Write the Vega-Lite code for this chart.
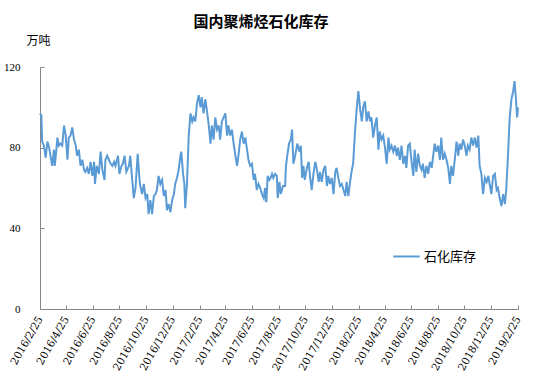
{
  "$schema": "https://vega.github.io/schema/vega-lite/v6.json",
  "width": 478,
  "height": 242,
  "autosize": {"type": "none"},
  "padding": {"left": 40, "top": 67, "right": 23, "bottom": 75},
  "background": "white",
  "title": {"text": "国内聚烯烃石化库存", "font": "Noto Sans CJK SC", "fontSize": 15, "fontWeight": "bold", "color": "#000000", "anchor": "middle", "dx": -18, "offset": 4},
  "data": {"values": [
    {"date": "2016/02/25", "v": 97}, {"date": "2016/02/28", "v": 96}, {"date": "2016/03/01", "v": 83}, {"date": "2016/03/05", "v": 81},
    {"date": "2016/03/09", "v": 75}, {"date": "2016/03/13", "v": 83}, {"date": "2016/03/17", "v": 80}, {"date": "2016/03/20", "v": 76},
    {"date": "2016/03/24", "v": 71}, {"date": "2016/03/28", "v": 79}, {"date": "2016/03/30", "v": 71}, {"date": "2016/04/05", "v": 85},
    {"date": "2016/04/08", "v": 81}, {"date": "2016/04/12", "v": 82}, {"date": "2016/04/16", "v": 81}, {"date": "2016/04/20", "v": 91},
    {"date": "2016/04/24", "v": 86}, {"date": "2016/04/28", "v": 74}, {"date": "2016/05/01", "v": 85}, {"date": "2016/05/05", "v": 86},
    {"date": "2016/05/09", "v": 90}, {"date": "2016/05/13", "v": 84}, {"date": "2016/05/17", "v": 81}, {"date": "2016/05/20", "v": 76},
    {"date": "2016/05/24", "v": 79}, {"date": "2016/05/28", "v": 71}, {"date": "2016/06/01", "v": 74}, {"date": "2016/06/05", "v": 69},
    {"date": "2016/06/08", "v": 68}, {"date": "2016/06/12", "v": 70}, {"date": "2016/06/16", "v": 67}, {"date": "2016/06/20", "v": 73},
    {"date": "2016/06/24", "v": 66}, {"date": "2016/06/28", "v": 73}, {"date": "2016/06/30", "v": 62}, {"date": "2016/07/04", "v": 71},
    {"date": "2016/07/09", "v": 67}, {"date": "2016/07/13", "v": 78}, {"date": "2016/07/17", "v": 69}, {"date": "2016/07/22", "v": 64},
    {"date": "2016/07/24", "v": 74}, {"date": "2016/07/28", "v": 76}, {"date": "2016/08/01", "v": 74}, {"date": "2016/08/05", "v": 72},
    {"date": "2016/08/09", "v": 71}, {"date": "2016/08/13", "v": 73}, {"date": "2016/08/16", "v": 71}, {"date": "2016/08/22", "v": 76},
    {"date": "2016/08/25", "v": 67}, {"date": "2016/08/30", "v": 71}, {"date": "2016/09/02", "v": 72}, {"date": "2016/09/06", "v": 76},
    {"date": "2016/09/10", "v": 68}, {"date": "2016/09/16", "v": 71}, {"date": "2016/09/19", "v": 76}, {"date": "2016/09/23", "v": 65},
    {"date": "2016/09/27", "v": 55}, {"date": "2016/10/01", "v": 60}, {"date": "2016/10/06", "v": 77}, {"date": "2016/10/11", "v": 62},
    {"date": "2016/10/16", "v": 57}, {"date": "2016/10/20", "v": 62}, {"date": "2016/10/24", "v": 55}, {"date": "2016/10/28", "v": 57},
    {"date": "2016/10/31", "v": 47}, {"date": "2016/11/04", "v": 54}, {"date": "2016/11/08", "v": 47}, {"date": "2016/11/12", "v": 56},
    {"date": "2016/11/16", "v": 57}, {"date": "2016/11/19", "v": 59}, {"date": "2016/11/23", "v": 66}, {"date": "2016/11/27", "v": 62},
    {"date": "2016/12/01", "v": 64}, {"date": "2016/12/05", "v": 56}, {"date": "2016/12/09", "v": 59}, {"date": "2016/12/12", "v": 49},
    {"date": "2016/12/16", "v": 52}, {"date": "2016/12/20", "v": 48}, {"date": "2016/12/24", "v": 54}, {"date": "2016/12/28", "v": 57},
    {"date": "2016/12/31", "v": 62}, {"date": "2017/01/04", "v": 65}, {"date": "2017/01/08", "v": 69}, {"date": "2017/01/12", "v": 76},
    {"date": "2017/01/14", "v": 78}, {"date": "2017/01/18", "v": 67}, {"date": "2017/01/21", "v": 62}, {"date": "2017/01/23", "v": 50},
    {"date": "2017/01/27", "v": 62}, {"date": "2017/01/31", "v": 86}, {"date": "2017/02/04", "v": 97}, {"date": "2017/02/08", "v": 93},
    {"date": "2017/02/11", "v": 95}, {"date": "2017/02/15", "v": 93}, {"date": "2017/02/19", "v": 102}, {"date": "2017/02/23", "v": 106},
    {"date": "2017/02/27", "v": 100}, {"date": "2017/03/02", "v": 105}, {"date": "2017/03/06", "v": 97}, {"date": "2017/03/10", "v": 104},
    {"date": "2017/03/14", "v": 98}, {"date": "2017/03/18", "v": 91}, {"date": "2017/03/22", "v": 82}, {"date": "2017/03/25", "v": 91},
    {"date": "2017/03/29", "v": 84}, {"date": "2017/04/02", "v": 95}, {"date": "2017/04/06", "v": 89}, {"date": "2017/04/10", "v": 91},
    {"date": "2017/04/13", "v": 84}, {"date": "2017/04/17", "v": 93}, {"date": "2017/04/21", "v": 95}, {"date": "2017/04/25", "v": 97},
    {"date": "2017/04/29", "v": 86}, {"date": "2017/05/02", "v": 91}, {"date": "2017/05/06", "v": 86}, {"date": "2017/05/10", "v": 89},
    {"date": "2017/05/14", "v": 82}, {"date": "2017/05/18", "v": 76}, {"date": "2017/05/22", "v": 71}, {"date": "2017/05/25", "v": 76},
    {"date": "2017/05/29", "v": 84}, {"date": "2017/06/02", "v": 88}, {"date": "2017/06/06", "v": 82}, {"date": "2017/06/10", "v": 85},
    {"date": "2017/06/13", "v": 80}, {"date": "2017/06/17", "v": 74}, {"date": "2017/06/21", "v": 71}, {"date": "2017/06/25", "v": 72},
    {"date": "2017/06/29", "v": 64}, {"date": "2017/07/02", "v": 67}, {"date": "2017/07/06", "v": 59}, {"date": "2017/07/10", "v": 62},
    {"date": "2017/07/14", "v": 60}, {"date": "2017/07/18", "v": 57}, {"date": "2017/07/22", "v": 55}, {"date": "2017/07/25", "v": 60},
    {"date": "2017/07/28", "v": 53}, {"date": "2017/07/31", "v": 66}, {"date": "2017/08/04", "v": 64}, {"date": "2017/08/07", "v": 65},
    {"date": "2017/08/10", "v": 67}, {"date": "2017/08/13", "v": 65}, {"date": "2017/08/17", "v": 67}, {"date": "2017/08/21", "v": 66},
    {"date": "2017/08/23", "v": 55}, {"date": "2017/08/27", "v": 63}, {"date": "2017/08/30", "v": 57}, {"date": "2017/09/04", "v": 61},
    {"date": "2017/09/09", "v": 61}, {"date": "2017/09/11", "v": 71}, {"date": "2017/09/14", "v": 76}, {"date": "2017/09/18", "v": 82},
    {"date": "2017/09/22", "v": 84}, {"date": "2017/09/25", "v": 89}, {"date": "2017/09/28", "v": 72}, {"date": "2017/10/02", "v": 76},
    {"date": "2017/10/07", "v": 82}, {"date": "2017/10/12", "v": 78}, {"date": "2017/10/15", "v": 81}, {"date": "2017/10/18", "v": 65},
    {"date": "2017/10/21", "v": 71}, {"date": "2017/10/24", "v": 64}, {"date": "2017/10/29", "v": 70}, {"date": "2017/11/02", "v": 73},
    {"date": "2017/11/05", "v": 66}, {"date": "2017/11/09", "v": 59}, {"date": "2017/11/13", "v": 67}, {"date": "2017/11/17", "v": 73},
    {"date": "2017/11/21", "v": 69}, {"date": "2017/11/25", "v": 63}, {"date": "2017/11/28", "v": 68}, {"date": "2017/12/02", "v": 63},
    {"date": "2017/12/06", "v": 69}, {"date": "2017/12/10", "v": 71}, {"date": "2017/12/14", "v": 61}, {"date": "2017/12/17", "v": 66},
    {"date": "2017/12/21", "v": 62}, {"date": "2017/12/25", "v": 65}, {"date": "2017/12/29", "v": 57}, {"date": "2018/01/02", "v": 68},
    {"date": "2018/01/05", "v": 70}, {"date": "2018/01/09", "v": 65}, {"date": "2018/01/13", "v": 61}, {"date": "2018/01/17", "v": 62},
    {"date": "2018/01/21", "v": 59}, {"date": "2018/01/25", "v": 56}, {"date": "2018/01/28", "v": 63}, {"date": "2018/02/01", "v": 56},
    {"date": "2018/02/05", "v": 63}, {"date": "2018/02/09", "v": 69}, {"date": "2018/02/12", "v": 72}, {"date": "2018/02/16", "v": 87},
    {"date": "2018/02/20", "v": 99}, {"date": "2018/02/24", "v": 108}, {"date": "2018/02/28", "v": 99}, {"date": "2018/03/04", "v": 93},
    {"date": "2018/03/07", "v": 100}, {"date": "2018/03/11", "v": 103}, {"date": "2018/03/15", "v": 93}, {"date": "2018/03/19", "v": 98},
    {"date": "2018/03/23", "v": 93}, {"date": "2018/03/26", "v": 95}, {"date": "2018/03/30", "v": 85}, {"date": "2018/04/03", "v": 91},
    {"date": "2018/04/07", "v": 95}, {"date": "2018/04/11", "v": 79}, {"date": "2018/04/14", "v": 88}, {"date": "2018/04/18", "v": 84},
    {"date": "2018/04/22", "v": 86}, {"date": "2018/04/26", "v": 80}, {"date": "2018/04/30", "v": 72}, {"date": "2018/05/04", "v": 85},
    {"date": "2018/05/07", "v": 79}, {"date": "2018/05/11", "v": 81}, {"date": "2018/05/15", "v": 78}, {"date": "2018/05/19", "v": 81},
    {"date": "2018/05/23", "v": 76}, {"date": "2018/05/26", "v": 80}, {"date": "2018/05/30", "v": 74}, {"date": "2018/06/03", "v": 81},
    {"date": "2018/06/07", "v": 72}, {"date": "2018/06/11", "v": 76}, {"date": "2018/06/14", "v": 70}, {"date": "2018/06/18", "v": 81},
    {"date": "2018/06/22", "v": 82}, {"date": "2018/06/26", "v": 73}, {"date": "2018/06/30", "v": 66}, {"date": "2018/07/03", "v": 79},
    {"date": "2018/07/07", "v": 68}, {"date": "2018/07/11", "v": 77}, {"date": "2018/07/15", "v": 71}, {"date": "2018/07/19", "v": 69},
    {"date": "2018/07/22", "v": 72}, {"date": "2018/07/26", "v": 65}, {"date": "2018/07/30", "v": 71}, {"date": "2018/08/03", "v": 67},
    {"date": "2018/08/07", "v": 73}, {"date": "2018/08/11", "v": 70}, {"date": "2018/08/14", "v": 75}, {"date": "2018/08/18", "v": 82},
    {"date": "2018/08/22", "v": 78}, {"date": "2018/08/26", "v": 81}, {"date": "2018/08/30", "v": 74}, {"date": "2018/09/02", "v": 85},
    {"date": "2018/09/06", "v": 74}, {"date": "2018/09/10", "v": 77}, {"date": "2018/09/14", "v": 74}, {"date": "2018/09/18", "v": 70},
    {"date": "2018/09/22", "v": 62}, {"date": "2018/09/25", "v": 71}, {"date": "2018/09/29", "v": 66}, {"date": "2018/10/03", "v": 74},
    {"date": "2018/10/07", "v": 83}, {"date": "2018/10/11", "v": 76}, {"date": "2018/10/14", "v": 82}, {"date": "2018/10/18", "v": 79},
    {"date": "2018/10/22", "v": 84}, {"date": "2018/10/26", "v": 81}, {"date": "2018/10/30", "v": 76}, {"date": "2018/11/02", "v": 81},
    {"date": "2018/11/06", "v": 79}, {"date": "2018/11/10", "v": 85}, {"date": "2018/11/14", "v": 81}, {"date": "2018/11/18", "v": 85},
    {"date": "2018/11/22", "v": 80}, {"date": "2018/11/26", "v": 86}, {"date": "2018/11/29", "v": 71}, {"date": "2018/12/03", "v": 67},
    {"date": "2018/12/07", "v": 57}, {"date": "2018/12/11", "v": 65}, {"date": "2018/12/15", "v": 63}, {"date": "2018/12/19", "v": 66},
    {"date": "2018/12/22", "v": 62}, {"date": "2018/12/26", "v": 57}, {"date": "2018/12/30", "v": 66}, {"date": "2019/01/03", "v": 67},
    {"date": "2019/01/07", "v": 59}, {"date": "2019/01/10", "v": 60}, {"date": "2019/01/14", "v": 55}, {"date": "2019/01/18", "v": 51},
    {"date": "2019/01/22", "v": 57}, {"date": "2019/01/26", "v": 52}, {"date": "2019/01/29", "v": 59}, {"date": "2019/02/02", "v": 76},
    {"date": "2019/02/06", "v": 95}, {"date": "2019/02/10", "v": 104}, {"date": "2019/02/14", "v": 108}, {"date": "2019/02/17", "v": 113},
    {"date": "2019/02/20", "v": 105}, {"date": "2019/02/23", "v": 95}, {"date": "2019/02/25", "v": 100}
  ]},
  "mark": {"type": "line", "strokeWidth": 2, "interpolate": "linear"},
  "encoding": {
    "x": {
      "field": "date", "type": "temporal",
      "scale": {"domain": [{"year": 2016, "month": 2, "date": 25}, {"year": 2019, "month": 2, "date": 25}], "nice": false},
      "axis": {
        "title": null,
        "values": [
          {"year": 2016, "month": 2, "date": 25}, {"year": 2016, "month": 4, "date": 25}, {"year": 2016, "month": 6, "date": 25},
          {"year": 2016, "month": 8, "date": 25}, {"year": 2016, "month": 10, "date": 25}, {"year": 2016, "month": 12, "date": 25},
          {"year": 2017, "month": 2, "date": 25}, {"year": 2017, "month": 4, "date": 25}, {"year": 2017, "month": 6, "date": 25},
          {"year": 2017, "month": 8, "date": 25}, {"year": 2017, "month": 10, "date": 25}, {"year": 2017, "month": 12, "date": 25},
          {"year": 2018, "month": 2, "date": 25}, {"year": 2018, "month": 4, "date": 25}, {"year": 2018, "month": 6, "date": 25},
          {"year": 2018, "month": 8, "date": 25}, {"year": 2018, "month": 10, "date": 25}, {"year": 2018, "month": 12, "date": 25},
          {"year": 2019, "month": 2, "date": 25}
        ],
        "format": "%Y/%-m/%-d",
        "labelAngle": -60,
        "labelAlign": "right",
        "labelBaseline": "middle",
        "labelPadding": 12,
        "labelFont": "DejaVu Serif",
        "labelFontSize": 10.5,
        "labelColor": "#000000",
        "labelOverlap": false,
        "labelFlush": false,
        "grid": false,
        "domainColor": "#868686",
        "tickColor": "#868686",
        "tickSize": -4
      }
    },
    "y": {
      "field": "v", "type": "quantitative",
      "scale": {"domain": [0, 120], "nice": false},
      "axis": {
        "title": "万吨",
        "titleAngle": 0,
        "titleX": -2,
        "titleY": -27,
        "titleAlign": "center",
        "titleBaseline": "middle",
        "titleFont": "Noto Sans CJK SC",
        "titleFontSize": 12,
        "titleFontWeight": "normal",
        "titleColor": "#000000",
        "values": [0, 40, 80, 120],
        "labelFont": "Liberation Serif",
        "labelFontSize": 11,
        "labelColor": "#000000",
        "labelPadding": 24,
        "grid": false,
        "domainColor": "#868686",
        "tickColor": "#868686",
        "tickSize": -4
      }
    },
    "color": {
      "datum": "石化库存",
      "scale": {"range": ["#5B9BD5"]},
      "legend": {
        "title": null,
        "orient": "none",
        "legendX": 352,
        "legendY": 175,
        "symbolType": "stroke",
        "symbolSize": 700,
        "symbolStrokeWidth": 2,
        "labelFont": "Noto Sans CJK SC",
        "labelFontSize": 13,
        "labelColor": "#000000",
        "labelOffset": 3
      }
    }
  },
  "config": {"view": {"stroke": null}}
}
